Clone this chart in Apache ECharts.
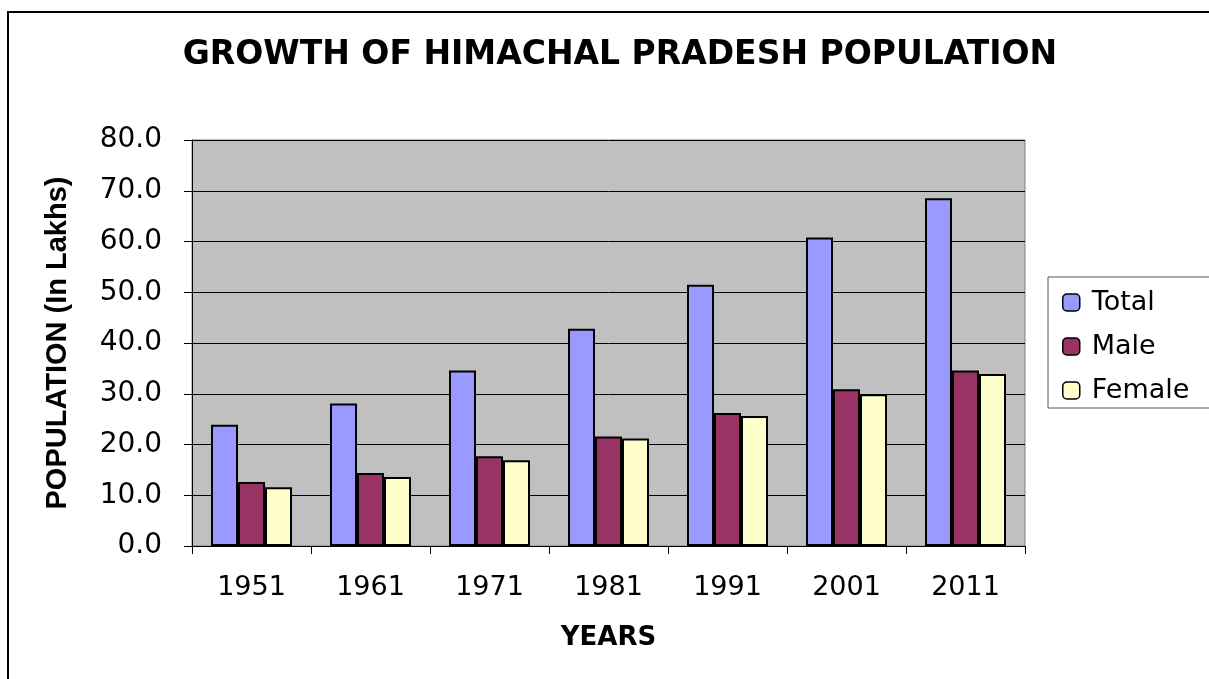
<!DOCTYPE html>
<html>
<head>
<meta charset="utf-8">
<script src="https://cdn.jsdelivr.net/npm/echarts@6/dist/echarts.min.js"></script>
<style>
  html, body { margin: 0; padding: 0; background: #fff; }
  #chart { width: 1209px; height: 679px; }
</style>
</head>
<body>
<div id="chart"></div>
<script>
// census years and population in lakhs
var years = ['1951', '1961', '1971', '1981', '1991', '2001', '2011'];
var total = [23.9, 28.1, 34.6, 42.8, 51.5, 60.8, 68.5];
var male = [12.6, 14.4, 17.7, 21.6, 26.2, 30.9, 34.6];
var female = [11.6, 13.6, 16.9, 21.2, 25.6, 29.9, 33.9];
var yTicks = { min: 0, max: 80, interval: 10 };

var chart = echarts.init(document.getElementById('chart'));

var barStyle = function(color) {
    return { color: color, borderColor: '#000', borderWidth: 2 };
};
var legendItem = function(name) {
    return { name: name, itemStyle: { borderColor: '#000', borderWidth: 1.5 } };
};

chart.setOption({
    animation: false,
    title: {
        text: 'GROWTH OF HIMACHAL PRADESH POPULATION',
        left: 615,
        textAlign: 'center',
        top: 34,
        textStyle: {
            fontFamily: 'DejaVu Sans',
            fontWeight: 'bold',
            fontSize: 33,
            color: '#000'
        }
    },
    graphic: [
        {
            type: 'rect',
            shape: { x: 8, y: 12, width: 1230, height: 700 },
            style: { fill: 'none', stroke: '#000', lineWidth: 2 },
            silent: true
        },
        {
            type: 'rect',
            shape: { x: 1048, y: 277, width: 200, height: 131 },
            style: { fill: '#fff', stroke: '#555', lineWidth: 1 },
            silent: true,
            z: 1
        }
    ],
    legend: {
        orient: 'vertical',
        left: 1057,
        top: 284,
        itemWidth: 17,
        itemHeight: 17,
        itemGap: 17,
        z: 5,
        textStyle: { fontFamily: 'DejaVu Sans', fontSize: 27, color: '#000', padding: [0, 0, 0, 7] },
        data: [legendItem('Total'), legendItem('Male'), legendItem('Female')]
    },
    grid: {
        left: 192,
        top: 140,
        width: 833,
        height: 406,
        show: true,
        backgroundColor: '#c0c0c0',
        borderColor: '#808080',
        borderWidth: 1
    },
    xAxis: {
        type: 'category',
        data: years,
        name: 'YEARS',
        nameLocation: 'middle',
        nameGap: 79,
        nameTextStyle: { fontFamily: 'DejaVu Sans', fontWeight: 'bold', fontSize: 26, color: '#000' },
        axisLine: { lineStyle: { color: '#000', width: 1 } },
        axisTick: { show: true, length: 8, lineStyle: { color: '#000' } },
        axisLabel: { margin: 28, fontFamily: 'DejaVu Sans', fontSize: 27, color: '#000' }
    },
    yAxis: {
        type: 'value',
        min: yTicks.min,
        max: yTicks.max,
        interval: yTicks.interval,
        name: 'POPULATION (In Lakhs)',
        nameLocation: 'middle',
        nameGap: 120,
        nameTextStyle: { fontFamily: 'Liberation Sans', fontWeight: 'bold', fontSize: 29, color: '#000' },
        axisLine: { show: true, lineStyle: { color: '#000', width: 1 } },
        axisTick: { show: true, length: 8, lineStyle: { color: '#000' } },
        axisLabel: {
            margin: 30,
            fontFamily: 'DejaVu Sans',
            fontSize: 28,
            color: '#000',
            formatter: function(v) { return v.toFixed(1); }
        },
        splitLine: { show: true, lineStyle: { color: '#000', width: 1 } }
    },
    series: [
        { name: 'Total', type: 'bar', data: total, barWidth: 27, barGap: '0%', itemStyle: barStyle('#9999ff') },
        { name: 'Male', type: 'bar', data: male, barWidth: 27, barGap: '0%', itemStyle: barStyle('#993366') },
        { name: 'Female', type: 'bar', data: female, barWidth: 27, barGap: '0%', itemStyle: barStyle('#ffffcc') }
    ]
});
</script>
</body>
</html>
